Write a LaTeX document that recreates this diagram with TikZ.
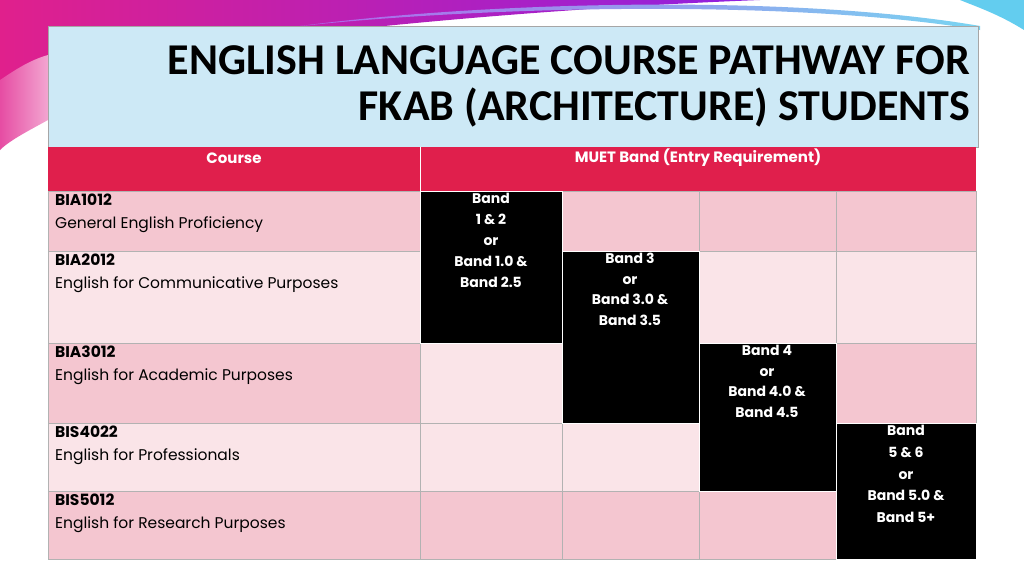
\documentclass[tikz,border=0pt]{standalone}
\usepackage{fontspec}
\setmainfont{Poppins}
\newfontfamily\titlefont{Carlito}
\usetikzlibrary{shadings}
\definecolor{ttlblue}{HTML}{CDE9F6}
\definecolor{hdrred}{HTML}{E01F4C}
\definecolor{pinkA}{HTML}{F4C6D0}
\definecolor{pinkB}{HTML}{FAE4E8}
\definecolor{mag}{HTML}{E0208C}
\definecolor{purp}{HTML}{9020E0}
\definecolor{cyanS}{HTML}{20B8E8}
\begin{document}
\begin{tikzpicture}[x=1pt,y=-1pt,
  cell/.style={draw=gray!60,line width=0.5pt},
  wtxt/.style={text=white,font=\bfseries\fontsize{14}{21}\selectfont,align=center,inner sep=0pt},
  ctxt/.style={anchor=north west,align=left,inner sep=0pt,font=\fontsize{15.5}{23}\selectfont}]
\useasboundingbox (0,0) rectangle (1024,576);
\fill[white] (0,0) rectangle (1024,576);
% swoosh
\shade[left color=mag,right color=purp] (0,0) -- (760,0) .. controls (500,10) and (200,40) .. (0,80) -- cycle;
\shade[left color=purp!70,right color=cyanS!60] (300,26) .. controls (500,5) and (800,0) .. (980,30) -- (980,26) .. controls (800,-5) and (500,0) .. (300,26);
\fill[cyanS!70] (960,0) -- (1024,0) -- (1024,30) .. controls (1000,15) and (980,8) .. (960,0) -- cycle;
\shade[left color=mag!80,right color=mag!40] (0,80) .. controls (15,70) and (30,60) .. (48,55) -- (48,120) .. controls (30,130) and (10,140) .. (0,150) -- cycle;
% title
\fill[ttlblue,draw=gray!70] (48,26) rectangle (978,147);
\node[anchor=east,align=right,inner sep=0pt,font=\titlefont\bfseries\fontsize{44}{46}\selectfont] (title) at (970,86)
  {ENGLISH LANGUAGE COURSE PATHWAY FOR\\FKAB (ARCHITECTURE) STUDENTS};
% header
\fill[hdrred] (48,147) rectangle (976,191);
\draw[white,line width=0.8pt] (420,147) -- (420,191);
\node[text=white,font=\bfseries\fontsize{15}{18}\selectfont] (hc) at (234,158) {Course};
\node[text=white,font=\bfseries\fontsize{15}{18}\selectfont] (hm) at (698,158) {MUET Band (Entry Requirement)};
% course cells
\foreach \a/\b/\c in {191/251/pinkA,251/343/pinkB,343/423/pinkA,423/491/pinkB,491/559/pinkA}
  \filldraw[fill=\c,cell] (48,\a) rectangle (420,\b);
% light cells
\filldraw[fill=pinkA,cell] (562,191) rectangle (699,251);
\filldraw[fill=pinkA,cell] (699,191) rectangle (836,251);
\filldraw[fill=pinkA,cell] (836,191) rectangle (976,251);
\filldraw[fill=pinkB,cell] (699,251) rectangle (836,343);
\filldraw[fill=pinkB,cell] (836,251) rectangle (976,343);
\filldraw[fill=pinkB,cell] (420,343) rectangle (562,423);
\filldraw[fill=pinkA,cell] (836,343) rectangle (976,423);
\filldraw[fill=pinkB,cell] (420,423) rectangle (562,491);
\filldraw[fill=pinkB,cell] (562,423) rectangle (699,491);
\filldraw[fill=pinkA,cell] (420,491) rectangle (562,559);
\filldraw[fill=pinkA,cell] (562,491) rectangle (699,559);
\filldraw[fill=pinkA,cell] (699,491) rectangle (836,559);
% black cells
\filldraw[fill=black,draw=white] (420,191) rectangle (562,343);
\filldraw[fill=black,draw=white] (562,251) rectangle (699,423);
\filldraw[fill=black,draw=white] (699,343) rectangle (836,491);
\filldraw[fill=black,draw=white] (836,423) rectangle (976,559);
\node[wtxt,anchor=north] (b1) at (491,193) {Band\\1 \& 2\\or\\Band 1.0 \&\\Band 2.5};
\node[wtxt,anchor=north,font=\bfseries\fontsize{14}{20.5}\selectfont] (b3) at (630,253) {Band 3\\or\\Band 3.0 \&\\Band 3.5};
\node[wtxt,anchor=north,font=\bfseries\fontsize{14}{20.5}\selectfont] (b4) at (767,345) {Band 4\\or\\Band 4.0 \&\\Band 4.5};
\node[wtxt,anchor=north,font=\bfseries\fontsize{14}{21.8}\selectfont] (b5) at (906,425) {Band\\5 \& 6\\or\\Band 5.0 \&\\Band 5+};
% course texts
\node[ctxt] (c1) at (55,194) {\textbf{BIA1012}\\General English Proficiency};
\node[ctxt] (c2) at (55,254) {\textbf{BIA2012}\\English for Communicative Purposes};
\node[ctxt] (c3) at (55,346) {\textbf{BIA3012}\\English for Academic Purposes};
\node[ctxt] (c4) at (55,426) {\textbf{BIS4022}\\English for Professionals};
\node[ctxt] (c5) at (55,494) {\textbf{BIS5012}\\English for Research Purposes};
\end{tikzpicture}
\end{document}
